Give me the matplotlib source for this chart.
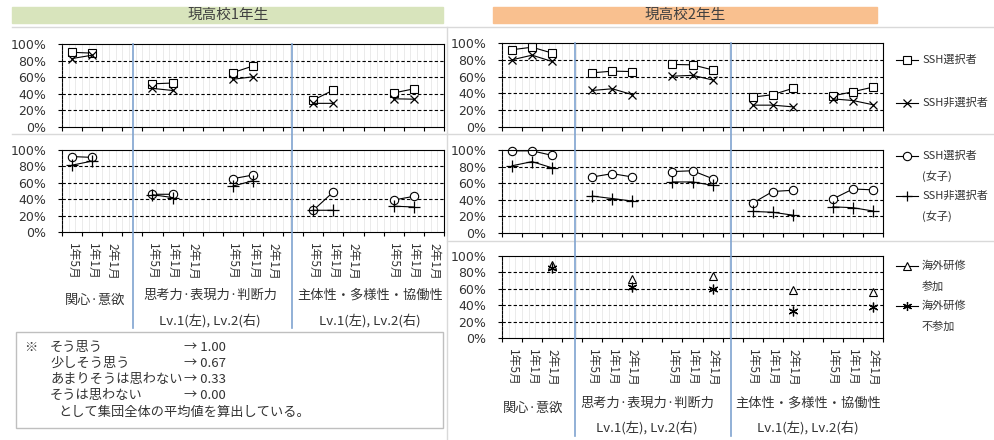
import numpy as np
import matplotlib
matplotlib.use("Agg")
import matplotlib.pyplot as plt
from matplotlib.lines import Line2D
from matplotlib.patches import Rectangle

plt.rcParams['font.family'] = ['DejaVu Sans', 'Noto Sans CJK JP']
JP = ['Noto Sans CJK JP', 'DejaVu Sans']
nan = np.nan

# =========================
# Data (values in %)
# =========================
cats = ["1年5月", "1年1月", "2年1月", "",
        "1年5月", "1年1月", "2年1月", "",
        "1年5月", "1年1月", "2年1月", "",
        "1年5月", "1年1月", "2年1月", "",
        "1年5月", "1年1月", "2年1月"]

# 現高校1年生
g1_ssh = [90, 89, nan, nan, 52, 53, nan, nan, 65.5, 73.5, nan, nan, 32.5, 44.5, nan, nan, 41, 46, nan]
g1_non = [82.5, 86.5, nan, nan, 46.5, 44, nan, nan, 57.5, 60.5, nan, nan, 28.5, 28.5, nan, nan, 34, 33.5, nan]
g1_ssh_f = [92, 91, nan, nan, 46, 46, nan, nan, 65, 69.5, nan, nan, 26.5, 49, nan, nan, 39, 43.5, nan]
g1_non_f = [81.5, 86.5, nan, nan, 45.5, 42, nan, nan, 56, 62.5, nan, nan, 26.5, 26.5, nan, nan, 31.5, 30.5, nan]

# 現高校2年生
g2_ssh = [92, 95, 88, nan, 64.5, 66.5, 66, nan, 74.5, 74, 68, nan, 35.5, 38.5, 46, nan, 37, 42, 47.5]
g2_non = [80, 85.5, 78, nan, 43.5, 45.5, 38.5, nan, 60.5, 61.5, 56, nan, 26, 26, 24, nan, 33.5, 31.5, 26.5]
g2_ssh_f = [99, 99, 93.5, nan, 67.5, 71.5, 67.5, nan, 74, 75, 65.5, nan, 36, 50, 51.5, nan, 41, 53, 52]
g2_non_f = [81, 86, 78.5, nan, 44.5, 41.5, 38.5, nan, 61.5, 61.5, 57.5, nan, 26, 25, 21.5, nan, 31.5, 30.5, 26.5]
g2_abroad = [nan, nan, 89, nan, nan, nan, 71.5, nan, nan, nan, 76, nan, nan, nan, 58.5, nan, nan, nan, 56.5]
g2_no_abroad = [nan, nan, 85.5, nan, nan, nan, 62.5, nan, nan, nan, 59.5, nan, nan, nan, 33, nan, nan, nan, 37.5]

note_labels = ["そう思う", "少しそう思う", "あまりそうは思わない", "そうは思わない"]
note_values = ["→ 1.00", "→ 0.67", "→ 0.33", "→ 0.00"]

# =========================
# Figure helpers (pixel layout)
# =========================
W, H = 994, 440
fig = plt.figure(figsize=(W / 100, H / 100), dpi=100)


def px_axes(x0, y0, x1, y1):
    return fig.add_axes([x0 / W, 1 - y1 / H, (x1 - x0) / W, (y1 - y0) / H])


def fline(xs, ys, **kw):
    fig.add_artist(Line2D([x / W for x in xs], [1 - y / H for y in ys],
                          transform=fig.transFigure, **kw))


def ftext(x, y, s, **kw):
    fig.text(x / W, 1 - y / H, s, **kw)


# chart frame borders (light gray)
gray = "#d9d9d9"
fline([12, 994], [27, 27], color=gray, lw=1)
fline([12, 447], [134, 134], color=gray, lw=1)
fline([447, 994], [134, 134], color=gray, lw=1)
fline([447, 994], [241, 241], color=gray, lw=1)
fline([447, 447], [27, 440], color=gray, lw=1)

# banners
fig.patches.append(Rectangle((12 / W, 1 - 23 / H), (443 - 12) / W, 16 / H,
                             transform=fig.transFigure, color="#d8e4bc", zorder=0))
fig.patches.append(Rectangle((493 / W, 1 - 23 / H), (877 - 493) / W, 16 / H,
                             transform=fig.transFigure, color="#f9c08f", zorder=0))
ftext(228, 15, "現高校1年生", ha="center", va="center", fontsize=10.5, family=JP, color="#404040")
ftext(685, 15, "現高校2年生", ha="center", va="center", fontsize=10.5, family=JP, color="#404040")

x = np.arange(len(cats))
label_pos = [i for i, c in enumerate(cats) if c]
label_txt = [c for c in cats if c]


def style_axes(ax, show_labels=False):
    ax.set_xlim(-0.5, len(cats) - 0.5)
    ax.set_ylim(0, 100)
    ax.set_facecolor("white")
    ax.set_xticks(np.arange(-0.5, len(cats), 1))
    ax.set_xticklabels([])
    ax.set_yticks(range(0, 101, 20))
    ax.set_yticklabels([f"{v}%" for v in range(0, 101, 20)])
    for k in np.arange(-0.5, len(cats) - 0.5, 1 / 3)[1:]:
        ax.axvline(k, color="#e8e8e8", lw=0.6, zorder=0)
    for v in range(20, 100, 20):
        ax.axhline(v, color="black", lw=0.8, ls=(0, (3, 2)), zorder=1)
    for s in ax.spines.values():
        s.set_color("black")
        s.set_linewidth(0.8)
    ax.spines["left"].set_linestyle((0, (2.5, 1.2)))
    ax.tick_params(which="major", direction="out", length=3.2, width=0.8,
                   labelsize=9, labelcolor="#333333", pad=8)
    if show_labels:
        ax.set_xticks(label_pos, minor=True)
        ax.set_xticklabels(label_txt, minor=True, rotation=-90, fontsize=8.5,
                           family=JP, color="#333333")
        ax.tick_params(which="minor", length=0, pad=8)


sq = dict(marker="s", mfc="white", mec="black", ms=6, mew=0.8, color="black", lw=0.8)
cr = dict(marker="o", mfc="white", mec="black", ms=6, mew=0.8, color="black", lw=0.8)
xm = dict(marker="x", mec="black", ms=6, mew=0.9, color="black", lw=0.8)
pl = dict(marker="+", mec="black", ms=8, mew=0.9, color="black", lw=0.8)
tr = dict(marker="^", mfc="white", mec="black", ms=6, mew=0.8, color="black", lw=0.8)
ast = dict(marker=(6, 2, 0), mec="black", ms=7, mew=0.9, color="black", lw=0.8)

# =========================
# Left panel (現高校1年生)
# =========================
L1 = px_axes(62, 44, 444, 127)
style_axes(L1)
L1.plot(x, g1_ssh, clip_on=False, **sq)
L1.plot(x, g1_non, clip_on=False, **xm)

L2 = px_axes(62, 150, 444, 232)
style_axes(L2, show_labels=True)
L2.plot(x, g1_ssh_f, clip_on=False, **cr)
L2.plot(x, g1_non_f, clip_on=False, **pl)

# =========================
# Right panel (現高校2年生)
# =========================
R1 = px_axes(502, 43, 883, 127)
style_axes(R1)
R1.plot(x, g2_ssh, clip_on=False, **sq)
R1.plot(x, g2_non, clip_on=False, **xm)

R2 = px_axes(502, 150, 883, 233)
style_axes(R2)
R2.plot(x, g2_ssh_f, clip_on=False, **cr)
R2.plot(x, g2_non_f, clip_on=False, **pl)

R3 = px_axes(502, 256, 883, 338)
style_axes(R3, show_labels=True)
R3.plot(x, g2_abroad, clip_on=False, **tr)
R3.plot(x, g2_no_abroad, clip_on=False, **ast)

# group separators (blue)
blue = "#7fa3d0"
fline([133, 133], [44, 328], color=blue, lw=1.2)
fline([292, 292], [44, 328], color=blue, lw=1.2)
fline([575, 575], [43, 436], color=blue, lw=1.2)
fline([731, 731], [43, 436], color=blue, lw=1.2)

# group labels
gkw = dict(ha="center", va="center", fontsize=9.5, family=JP, color="#333333")
ftext(95, 300, "関心·意欲", **gkw)
ftext(210, 295, "思考力·表現力·判断力", **gkw)
ftext(210, 321, "Lv.1(左), Lv.2(右)", **gkw)
ftext(370, 295, "主体性・多様性・協働性", **gkw)
ftext(370, 321, "Lv.1(左), Lv.2(右)", **gkw)
ftext(533, 408, "関心·意欲", **gkw)
ftext(647, 403, "思考力·表現力·判断力", **gkw)
ftext(647, 428, "Lv.1(左), Lv.2(右)", **gkw)
ftext(808, 403, "主体性・多様性・協働性", **gkw)
ftext(808, 428, "Lv.1(左), Lv.2(右)", **gkw)

# =========================
# Legends (drawn manually)
# =========================
lg = px_axes(886, 0, 994, 440)
lg.set_xlim(886, 994)
lg.set_ylim(440, 0)
lg.axis("off")
legend_items = [(60, sq, "SSH選択者", None), (103, xm, "SSH非選択者", None),
                (156, cr, "SSH選択者", "(女子)"), (196, pl, "SSH非選択者", "(女子)"),
                (266, tr, "海外研修", "参加"), (306, ast, "海外研修", "不参加")]
for yy, style, lab, sub in legend_items:
    lg.plot([896, 918], [yy, yy], color="black", lw=0.8)
    mk = {k: v for k, v in style.items() if k != "lw"}
    mk["ms"] = min(mk["ms"], 6.5)
    lg.plot([907], [yy], **mk)
    lg.text(922, yy, lab, va="center", ha="left", fontsize=8, family=JP, color="#333333")
    if sub:
        lg.text(922, yy + 20, sub, va="center", ha="left", fontsize=8, family=JP, color="#333333")

# =========================
# Note box
# =========================
fig.patches.append(Rectangle((16 / W, 1 - 428 / H), (443 - 16) / W, (428 - 332) / H,
                             transform=fig.transFigure, facecolor="white",
                             edgecolor="#bfbfbf", lw=1, zorder=0))
nkw = dict(ha="left", va="center", fontsize=9.5, family=JP, color="#333333")
ftext(24, 347, "※", **nkw)
for i, (lab, val) in enumerate(zip(note_labels, note_values)):
    yy = 347 + i * 16.3
    ftext(50, yy, lab, **nkw)
    ftext(184, yy, val, **nkw)
ftext(58, 412, "として集団全体の平均値を算出している。", **nkw)

fig.savefig("out.png", dpi=100)
